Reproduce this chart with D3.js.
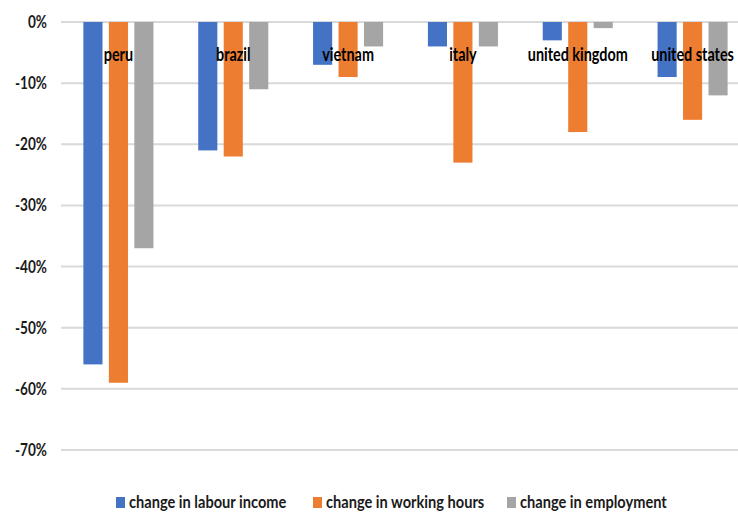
<!DOCTYPE html>
<html>
<head>
<meta charset="utf-8">
<script src="https://cdn.jsdelivr.net/npm/d3@7/dist/d3.min.js"></script>
<style>
  html, body { margin: 0; padding: 0; background: #fff; }
  svg text { font-family: Lato, "Open Sans", sans-serif; font-weight: bold; }
</style>
</head>
<body>
<svg id="chart" width="738" height="515"></svg>
<script>
const countries = ["peru", "brazil", "vietnam", "italy", "united kingdom", "united states"];
const seriesNames = ["change in labour income", "change in working hours", "change in employment"];
const labourIncome = [-56, -21, -7, -4, -3, -9];
const workingHours = [-59, -22, -9, -23, -18, -16];
const employment = [-37, -11, -4, -4, -1, -12];
const yTicks = [0, -10, -20, -30, -40, -50, -60, -70];
const colors = ["#4472C4", "#ED7D31", "#A5A5A5"];

const series = [labourIncome, workingHours, employment];

const svg = d3.select("#chart");
const W = 738, H = 515;
const plot = { left: 61, right: 750, top: 22, bottom: 450 };

const y = d3.scaleLinear().domain([0, -70]).range([plot.top, plot.bottom]);
const x0 = d3.scaleBand().domain(countries).range([plot.left, plot.right]).paddingInner(0.39).paddingOuter(0.195);
const x1 = d3.scaleBand().domain(d3.range(series.length)).range([0, x0.bandwidth()]).paddingInner(0.25);

// Horizontal gridlines
svg.append("g").selectAll("line").data(yTicks).join("line")
  .attr("x1", plot.left).attr("x2", W)
  .attr("y1", d => y(d)).attr("y2", d => y(d))
  .attr("stroke", "#d9d9d9").attr("stroke-width", 2);

// Y axis tick labels
const yAxis = d3.axisLeft(y).tickValues(yTicks).tickFormat(d => d + "%").tickSize(0).tickPadding(0);
const ya = svg.append("g").attr("transform", `translate(47,0)`).call(yAxis);
ya.select(".domain").remove();
ya.selectAll("text").attr("font-size", 17).attr("fill", "#1a1a1a")
  .attr("font-family", "Lato, sans-serif").attr("font-weight", "bold")
  .attr("transform", "scale(0.8,1)");

// Bars
const groups = svg.append("g").selectAll("g").data(countries).join("g")
  .attr("transform", d => `translate(${x0(d)},0)`);
groups.selectAll("rect").data((c, i) => series.map((s, k) => ({ k, v: s[i] }))).join("rect")
  .attr("x", d => x1(d.k))
  .attr("width", x1.bandwidth())
  .attr("y", y(0))
  .attr("height", d => y(d.v) - y(0))
  .attr("fill", d => colors[d.k]);

// Category labels
svg.append("g").selectAll("text").data(countries).join("text")
  .attr("transform", d => `translate(${x0(d) + x0.bandwidth() / 2},61) scale(0.8,1)`)
  .attr("text-anchor", "middle")
  .attr("font-size", 18).attr("fill", "#000")
  .text(d => d);

// Legend
const legendX = [116, 313, 507];
const lg = svg.append("g").selectAll("g").data(seriesNames).join("g")
  .attr("transform", (d, i) => `translate(${legendX[i]},497)`);
lg.append("rect").attr("width", 9).attr("height", 11).attr("fill", (d, i) => colors[i]);
lg.append("text").attr("transform", "translate(13,11) scale(0.86,1)")
  .attr("font-size", 17).attr("fill", "#1a1a1a").text(d => d);
</script>
</body>
</html>
